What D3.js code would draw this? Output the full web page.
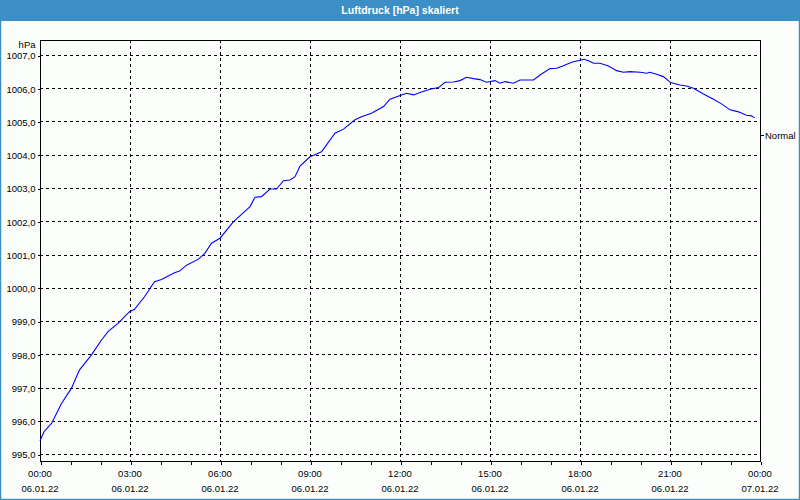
<!DOCTYPE html>
<html><head><meta charset="utf-8">
<script src="https://cdn.jsdelivr.net/npm/d3@7"></script>
<style>
html,body{margin:0;padding:0;background:#fcfefc;}
svg{display:block;}
text{font-family:"Liberation Sans",Arial,sans-serif;font-size:9.5px;fill:#000;}
</style></head>
<body>
<svg id="chart" width="800" height="500"></svg>
<script>
const title = "Luftdruck [hPa] skaliert";
const unitLabel = "hPa";
const seriesName = "Normal";
const minutes = [0,8,23,43,63,79,103,123,136,156,179,189,209,229,243,269,279,293,317,330,343,360,387,407,420,430,443,460,473,487,500,510,520,540,553,563,590,607,630,643,663,687,700,723,733,747,760,780,797,810,827,840,853,867,880,893,910,920,930,947,960,987,1000,1020,1033,1047,1063,1080,1088,1097,1107,1120,1137,1153,1167,1180,1200,1213,1220,1233,1247,1261,1280,1293,1307,1327,1347,1363,1380,1397,1413,1423,1429];
const pressure = [995.40,995.67,995.92,996.52,996.98,997.53,997.98,998.43,998.68,998.93,999.28,999.35,999.73,1000.18,1000.25,1000.45,1000.50,1000.68,1000.86,1001.04,1001.34,1001.49,1001.99,1002.26,1002.44,1002.72,1002.74,1002.97,1002.97,1003.22,1003.24,1003.34,1003.66,1003.94,1004.02,1004.09,1004.65,1004.77,1005.05,1005.14,1005.25,1005.45,1005.67,1005.80,1005.85,1005.80,1005.87,1005.97,1006.02,1006.18,1006.19,1006.23,1006.33,1006.29,1006.26,1006.18,1006.23,1006.15,1006.20,1006.15,1006.25,1006.25,1006.40,1006.59,1006.60,1006.68,1006.78,1006.84,1006.87,1006.83,1006.75,1006.75,1006.67,1006.53,1006.48,1006.50,1006.48,1006.45,1006.48,1006.42,1006.35,1006.17,1006.10,1006.07,1006.00,1005.83,1005.67,1005.53,1005.35,1005.29,1005.19,1005.17,1005.11];
const yTicks = [995,996,997,998,999,1000,1001,1002,1003,1004,1005,1006,1007];
const xTickMinutes = [0,180,360,540,720,900,1080,1260,1440];
const xTimeLabels = ["00:00","03:00","06:00","09:00","12:00","15:00","18:00","21:00","00:00"];
const xDateLabels = ["06.01.22","06.01.22","06.01.22","06.01.22","06.01.22","06.01.22","06.01.22","06.01.22","07.01.22"];
const hourTicks = d3.range(0,1441,60);

const svg = d3.select("#chart");
const W=800,H=500;
const L=40,R=760,T=40,B=461;
const blue="#3c8fc6";

svg.append("rect").attr("x",0).attr("y",0).attr("width",W).attr("height",H).attr("fill","#fcfefc");
// title bar
svg.append("rect").attr("x",0).attr("y",0).attr("width",W).attr("height",21).attr("fill",blue);
svg.append("text").attr("x",400).attr("y",13.5).attr("text-anchor","middle")
  .style("fill","#fff").style("font-weight","bold").style("font-size","10.5px").text(title);
// outer border
svg.append("rect").attr("x",0.5).attr("y",0.5).attr("width",W-1).attr("height",H-1)
  .attr("fill","none").attr("stroke",blue).attr("stroke-width",1.5);

const x = d3.scaleLinear().domain([0,1440]).range([L,R]);
const y = d3.scaleLinear().domain([995,1007]).range([454,55]);

const g = svg.append("g").attr("shape-rendering","crispEdges");
// horizontal grid
g.selectAll("line.hg").data(yTicks).join("line")
  .attr("x1",L).attr("x2",R).attr("y1",d=>Math.round(y(d))+0.5).attr("y2",d=>Math.round(y(d))+0.5)
  .attr("stroke","#000").attr("stroke-dasharray","3,3");
// vertical grid
g.selectAll("line.vg").data(xTickMinutes.slice(1,-1)).join("line")
  .attr("y1",T).attr("y2",B).attr("x1",d=>Math.round(x(d))+0.5).attr("x2",d=>Math.round(x(d))+0.5)
  .attr("stroke","#000").attr("stroke-dasharray","3,3");

// y axis
const yAxis = d3.axisLeft(y).tickValues(yTicks).tickSize(3).tickPadding(2)
  .tickFormat(d=>d3.format(".1f")(d).replace(".",","));
const ya = svg.append("g").attr("transform",`translate(${L+0.5},0.5)`).call(yAxis);
ya.select(".domain").remove();
ya.selectAll("text").style("font-family","Liberation Sans, Arial, sans-serif").style("font-size","9.5px").attr("dy","0.35em");
ya.selectAll("line").attr("shape-rendering","crispEdges");

// x axis ticks (hourly)
const xAxis = d3.axisBottom(x).tickValues(hourTicks).tickSize(3).tickFormat("");
const xa = svg.append("g").attr("transform",`translate(0.5,${B+0.5})`).call(xAxis);
xa.select(".domain").remove();
xa.selectAll("line").attr("shape-rendering","crispEdges");

// x labels
const xl = svg.append("g");
xl.selectAll("text.t").data(xTickMinutes).join("text")
  .attr("x",d=>x(d)).attr("y",477).attr("text-anchor","middle").text((d,i)=>xTimeLabels[i]);
xl.selectAll("text.d").data(xTickMinutes).join("text")
  .attr("x",d=>x(d)).attr("y",492).attr("text-anchor","middle").text((d,i)=>xDateLabels[i]);

// unit
svg.append("text").attr("x",35.5).attr("y",48).attr("text-anchor","end").text(unitLabel);

// frame
svg.append("rect").attr("x",L+0.5).attr("y",T+0.5).attr("width",R-L).attr("height",B-T)
  .attr("fill","none").attr("stroke","#000").attr("stroke-width",1).attr("shape-rendering","crispEdges");

// line
const line = d3.line().x((d,i)=>x(minutes[i])).y(d=>y(d));
svg.append("path").datum(pressure).attr("d",line).attr("fill","none")
  .attr("stroke","#0000ff").attr("stroke-width",1.1);

// legend
svg.append("line").attr("x1",R).attr("x2",R+4).attr("y1",135.5).attr("y2",135.5)
  .attr("stroke","#000").attr("shape-rendering","crispEdges");
svg.append("text").attr("x",765).attr("y",135.5).attr("dy","0.35em").text(seriesName);
</script>
</body></html>
